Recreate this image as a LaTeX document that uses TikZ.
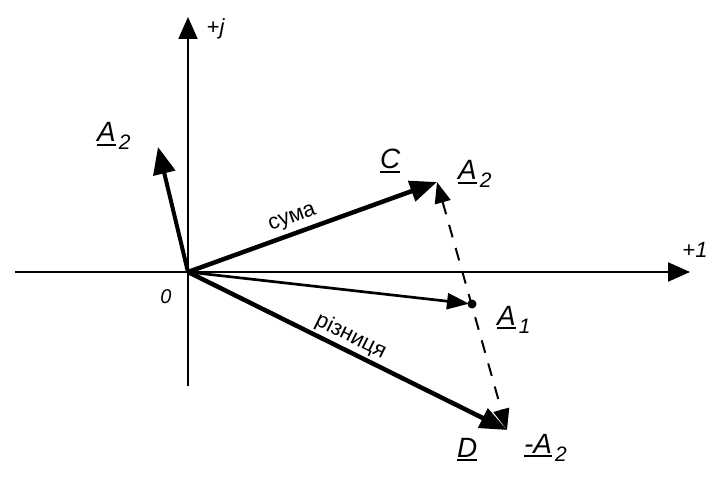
\documentclass[tikz,border=0pt]{standalone}
\usepackage{fontspec}
\setmainfont{Liberation Sans}
\usetikzlibrary{arrows.meta}
\newsavebox\ulbox
\newcommand\ulmk[1]{\sbox\ulbox{#1}\rlap{\vrule height -2bp depth 4bp width\wd\ulbox}\usebox\ulbox}
\newcommand\sbs[1]{\hspace{3bp}\raisebox{-8bp}{\fontsize{21}{21}\selectfont #1}}
\begin{document}
\begin{tikzpicture}[x=1bp,y=-1bp,
  axis/.style={line width=2bp,-{Triangle[length=22bp,width=19bp]}},
  vec/.style={line width=4.5bp,-{Triangle[length=27bp,width=21bp]}},
  thinvec/.style={line width=2.7bp,-{Triangle[length=22bp,width=16bp]}},
  dashvec/.style={line width=2bp,dash pattern=on 13bp off 11bp,{Triangle[length=21bp,width=16bp]}-{Triangle[length=21bp,width=16bp]}},
  lbl/.style={inner sep=0pt,anchor=base west,font=\fontsize{28}{28}\selectfont\itshape},
  sml/.style={inner sep=0pt,font=\fontsize{22}{22}\selectfont}]
\useasboundingbox (0,0) rectangle (725,481);
% points
\coordinate (o) at (188,272);
\coordinate (xl) at (15,272);
\coordinate (xr) at (690,272);
\coordinate (yb) at (188,386);
\coordinate (yt) at (188,17);
\coordinate (a2) at (158,147);
\coordinate (c) at (437,182);
\coordinate (a1) at (472,304);
\coordinate (d) at (507,430);
% axes
\draw[axis] (xl) -- (xr);
\draw[axis] (yb) -- (yt);
% vectors
\draw[line width=4bp,-{Triangle[length=27bp,width=22bp]}] (o) -- (a2);
\draw[vec] (o) -- node[sml,pos=0.44,sloped,above,inner sep=4bp] {сума} (c);
\draw[vec] (o) -- node[sml,pos=0.49,sloped,above,inner sep=2bp] {різниця} (d);
\draw[thinvec,shorten >=3bp] (o) -- (a1);
\draw[dashvec] (c) -- (d);
\fill (a1) circle (4.5bp);
% labels
\node[sml] (lj) at (216,29) {+\textit{j}};
\node[sml] (l1) at (695,250) {+\textit{1}};
\node[sml,font=\fontsize{20}{20}\selectfont\itshape] (l0) at (166,297) {0};
\node[lbl] (la2) at (97,142) {\ulmk{A}\sbs{2}};
\node[lbl] (lc) at (380,169) {\ulmk{C}};
\node[lbl] (lca2) at (458,180) {\ulmk{A}\sbs{2}};
\node[lbl] (la1) at (497,325) {\ulmk{A}\sbs{\itshape 1}};
\node[lbl] (ld) at (457,457) {\ulmk{D}};
\node[lbl] (lma2) at (524,453) {\ulmk{-A}\sbs{2}};
\end{tikzpicture}
\end{document}
